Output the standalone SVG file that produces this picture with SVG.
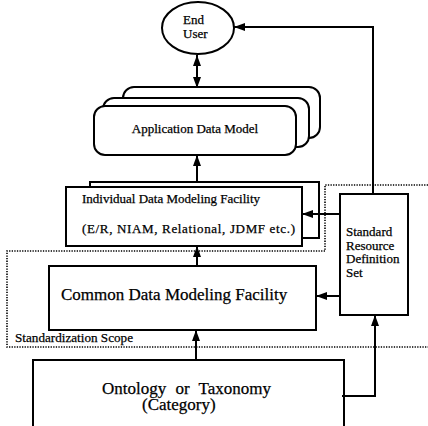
<svg xmlns="http://www.w3.org/2000/svg" width="428" height="426" viewBox="0 0 428 426">
  <defs>
    <marker id="arrow" viewBox="0 0 11 8" refX="11" refY="4" markerWidth="11" markerHeight="8" markerUnits="userSpaceOnUse" orient="auto-start-reverse">
      <path d="M0,0 L11,4 L0,8 z" fill="#000"/>
    </marker>
  </defs>
  <style>
    .box { fill: #fff; stroke: #000; stroke-width: 2; }
    .conn { fill: none; stroke: #000; stroke-width: 2; marker-end: url(#arrow); }
    .scope { fill: none; stroke: #000; stroke-width: 1.6; stroke-dasharray: 1.3 1.3; }
    text { font-family: "Liberation Serif", "Times New Roman", serif; fill: #000; stroke: #000; stroke-width: 0.25; }
    .t13 { font-size: 13px; }
    .t17 { font-size: 17px; }
  </style>

  <rect width="428" height="426" fill="#fff"/>

  <!-- standardization scope boundary -->
  <g id="scope">
    <path class="scope" d="M428,185 H325 V251 H7 V347 H428"/>
    <text class="t13" x="15" y="342" font-size="12" textLength="118" lengthAdjust="spacingAndGlyphs">Standardization Scope</text>
  </g>

  <g id="end-user">
    <ellipse class="box" cx="198" cy="28" rx="36" ry="26"/>
    <text class="t13" x="183" y="24">End</text>
    <text class="t13" x="183" y="38">User</text>
  </g>

  <!-- stacked application models -->
  <g id="application-data-model">
    <rect class="box" x="123" y="87" width="197" height="51" rx="11"/>
    <rect class="box" x="103" y="98" width="206" height="49" rx="11"/>
    <rect class="box" x="94" y="106" width="202" height="49" rx="11"/>
    <text class="t13" x="195" y="133" text-anchor="middle">Application Data Model</text>
  </g>

  <g id="individual-facility">
    <rect class="box" x="90" y="182" width="229" height="56"/>
    <rect class="box" x="66" y="187" width="236" height="59"/>
    <text class="t13" x="82" y="203" font-size="13.5">Individual Data Modeling Facility</text>
    <text class="t13" x="82" y="233" textLength="213" lengthAdjust="spacing">(E/R, NIAM, Relational, JDMF etc.)</text>
  </g>

  <g id="common-facility">
    <rect class="box" x="49" y="266" width="267" height="64"/>
    <text class="t17" x="61" y="300">Common Data Modeling Facility</text>
  </g>

  <g id="ontology">
    <rect class="box" x="33" y="360" width="311" height="80"/>
    <text class="t17" x="102" y="394" word-spacing="5">Ontology or Taxonomy</text>
    <text class="t17" x="142" y="410">(Category)</text>
  </g>

  <g id="standard-resource-definition-set">
    <rect class="box" x="340" y="194" width="68" height="121"/>
    <text class="t13" x="346" y="236">Standard</text>
    <text class="t13" x="346" y="250">Resource</text>
    <text class="t13" x="346" y="263">Definition</text>
    <text class="t13" x="346" y="277">Set</text>
  </g>

  <g id="connectors">
    <line class="conn" x1="197" y1="55" x2="197" y2="88" marker-start="url(#arrow)"/>
    <line class="conn" x1="197" y1="182" x2="197" y2="155"/>
    <line class="conn" x1="197" y1="266" x2="197" y2="246"/>
    <line class="conn" x1="196" y1="360" x2="196" y2="330"/>
    <line class="conn" x1="340" y1="214" x2="302" y2="214"/>
    <line class="conn" x1="340" y1="296" x2="316" y2="296"/>
    <path class="conn" d="M342,396 H375 V315"/>
    <path class="conn" d="M373,194 V27 H234" stroke-width="1.8"/>
  </g>
</svg>
